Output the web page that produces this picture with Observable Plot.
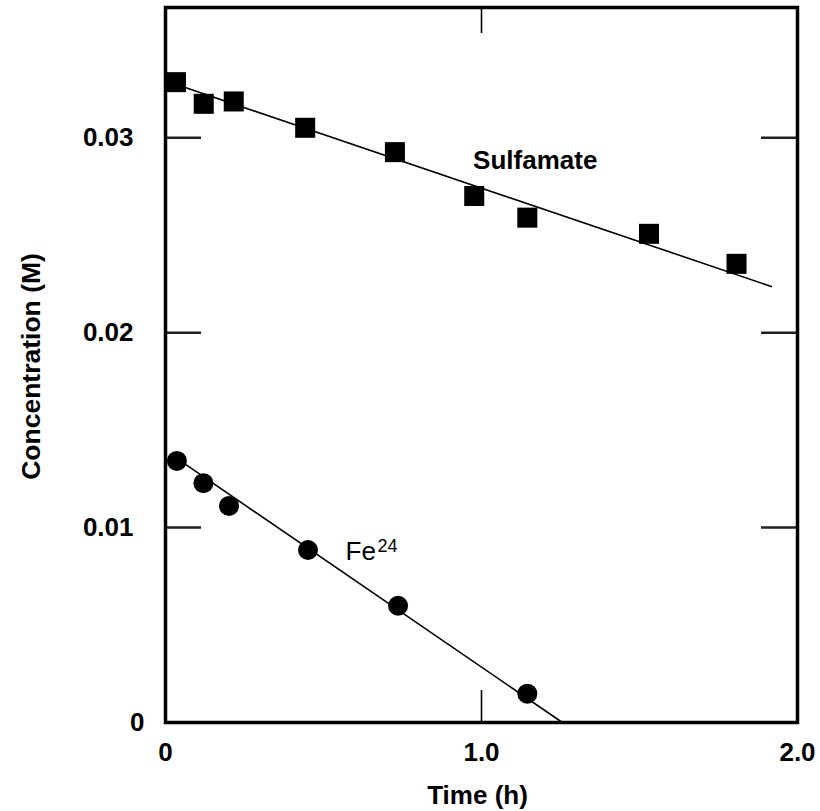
<!DOCTYPE html>
<html><head><meta charset="utf-8">
<script src="https://cdn.jsdelivr.net/npm/d3@7"></script>
<script src="https://cdn.jsdelivr.net/npm/@observablehq/plot@0.6"></script>
<style>body{margin:0;background:#fff} svg{display:block}</style>
</head><body><div id="chart"></div>
<script>
// Sulfamate (squares)
const sulfTime = [0.033, 0.121, 0.216, 0.442, 0.726, 0.977, 1.145, 1.530, 1.807];
const sulfConc = [0.03285, 0.03174, 0.03186, 0.03051, 0.02926, 0.02701, 0.02590, 0.02507, 0.02353];
// Fe (circles)
const feTime = [0.036, 0.120, 0.201, 0.451, 0.736, 1.145];
const feConc = [0.01342, 0.01228, 0.01111, 0.00885, 0.00599, 0.00148];
// fitted lines
const sulfFitTime = [0.03, 1.917];
const sulfFitConc = [0.03275, 0.02237];
const feFitTime = [0.03, 1.256];
const feFitConc = [0.01361, 0];
// ticks
const xTicks = [0, 1, 2];
const xTickLabels = ["0", "1.0", "2.0"];
const yTicks = [0.01, 0.02, 0.03];
const yTickLabels = ["0.01", "0.02", "0.03"];
const yMax = 0.03668;
// annotations
const labelSulf = {x: 1.17, y: 0.02883, text: "Sulfamate"};
const labelFe = {x: 0.5696, y: 0.008788, text: "Fe", sup: "24"};

const sulf = sulfTime.map((t, i) => ({t, c: sulfConc[i]}));
const fe = feTime.map((t, i) => ({t, c: feConc[i]}));
const sulfFit = sulfFitTime.map((t, i) => ({t, c: sulfFitConc[i]}));
const feFit = feFitTime.map((t, i) => ({t, c: feFitConc[i]}));

const font = "'Liberation Sans', Arial, Helvetica, sans-serif";

const chart = Plot.plot({
  width: 820, height: 811,
  marginLeft: 165, marginRight: 23, marginTop: 7, marginBottom: 89,
  style: {fontFamily: font, fontWeight: "bold", background: "white", color: "black"},
  x: {domain: [0, 2], label: null},
  y: {domain: [0, yMax], label: null},
  marks: [
    // inward ticks
    Plot.axisY(yTicks, {anchor: "left", tickSize: -36, text: null, stroke: "#222", strokeWidth: 2.5}),
    Plot.axisY(yTicks, {anchor: "right", tickSize: -37, text: null, stroke: "#222", strokeWidth: 2.5}),
    Plot.axisX([1], {anchor: "bottom", tickSize: -32, text: null, stroke: "black", strokeWidth: 1.6}),
    Plot.axisX([1], {anchor: "top", tickSize: -25, text: null, stroke: "black", strokeWidth: 1.6}),
    // tick labels
    Plot.axisY(yTicks, {anchor: "left", tickSize: 0, tickPadding: 32, fontSize: 26, fontWeight: "bold",
      tickFormat: d => yTickLabels[yTicks.indexOf(d)]}),
    Plot.text([0], {frameAnchor: "left", y: d => d, text: d => "0", dx: -21, textAnchor: "end", lineAnchor: "middle",
      fontSize: 26, fontWeight: "bold"}),
    Plot.axisX(xTicks, {anchor: "bottom", tickSize: 0, tickPadding: 20, fontSize: 26, fontWeight: "bold",
      tickFormat: d => xTickLabels[xTicks.indexOf(d)]}),
    // axis titles
    Plot.text(["Concentration (M)"], {frameAnchor: "left", text: d => d, rotate: -90, dx: -133.5, dy: 1.5,
      textAnchor: "middle", lineAnchor: "middle", fontSize: 26.5, fontWeight: "bold"}),
    Plot.text(["Time (h)"], {frameAnchor: "bottom", text: d => d, dy: 73, dx: -4,
      textAnchor: "middle", lineAnchor: "middle", fontSize: 26, fontWeight: "bold", letterSpacing: "1px"}),
    // fitted lines
    Plot.line(sulfFit, {x: "t", y: "c", stroke: "black", strokeWidth: 1.6}),
    Plot.line(feFit, {x: "t", y: "c", stroke: "black", strokeWidth: 1.6}),
    // points
    Plot.dot(sulf, {x: "t", y: "c", symbol: "square", r: 11.3, fill: "black", stroke: "none"}),
    Plot.dot(fe, {x: "t", y: "c", symbol: "circle", r: 10, fill: "black", stroke: "none"}),
    // labels
    Plot.text([labelSulf], {x: "x", y: "y", text: "text", fontSize: 26, fontWeight: "bold"}),
    Plot.text([labelFe], {x: "x", y: "y", text: "text", textAnchor: "start", fontSize: 26, fontWeight: "normal", letterSpacing: "1px"}),
    Plot.text([labelFe], {x: "x", y: "y", text: "sup", textAnchor: "start", dx: 32, dy: -5, fontSize: 18, fontWeight: "normal"}),
    // frame
    Plot.frame({stroke: "black", strokeWidth: 3.5})
  ]
});
document.getElementById("chart").append(chart);
</script>
</body></html>
